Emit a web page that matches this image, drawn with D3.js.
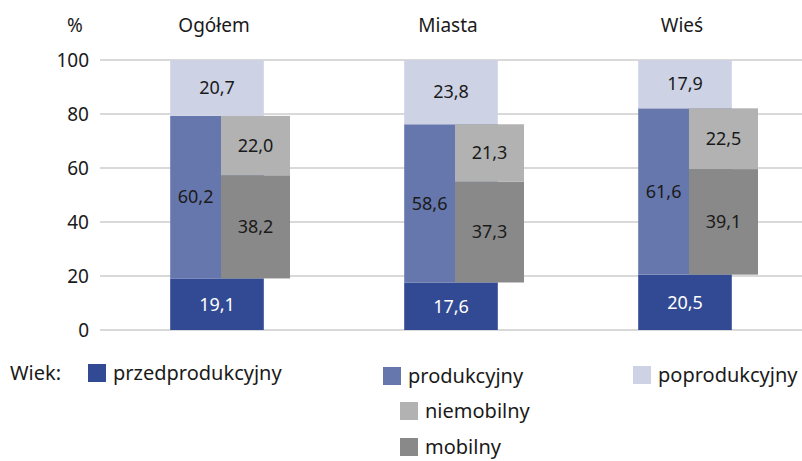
<!doctype html>
<html>
  <head>
    <meta charset="utf-8">
    <style>
      body { margin: 0; background: #fff; }
      text { font-family: "Noto Sans", sans-serif; font-size: 18px; fill: #1a1a1a; }
      .grid line { stroke: #d9d9d9; stroke-width: 2px; }
      .cat { font-size: 19px; }
      .tick { font-size: 19px; }
      .legend text, .lead { font-size: 20px; }
    </style>
    <script src="https://cdn.jsdelivr.net/npm/d3@7"></script>
  </head>
  <body>
  <script>
    // data
    const categories = ["Ogółem", "Miasta", "Wieś"];
    const przedprodukcyjny = [19.1, 17.6, 20.5];
    const produkcyjny = [60.2, 58.6, 61.6];
    const poprodukcyjny = [20.7, 23.8, 17.9];
    const mobilny = [38.2, 37.3, 39.1];
    const niemobilny = [22.0, 21.3, 22.5];
    const yTicks = [0, 20, 40, 60, 80, 100];

    const colors = {
      przedprodukcyjny: "#324a93",
      produkcyjny: "#6677ad",
      poprodukcyjny: "#cdd2e5",
      niemobilny: "#b1b2b1",
      mobilny: "#898989"
    };

    const fmt = v => d3.format(".1f")(v).replace(".", ",");

    const width = 802, height = 461;
    const svg = d3.select("body").append("svg")
        .attr("width", width)
        .attr("height", height);

    const x = d3.scaleBand().domain(categories).range([100, 802]);
    const y = d3.scaleLinear().domain([0, 100]).range([330, 60]);
    const bw = x.bandwidth();
    const mainW = bw * 0.4, grayOff = bw * 0.017, grayW = bw * 0.295;
    const cx = c => x(c) + bw / 2;

    // gridlines
    svg.append("g").attr("class", "grid")
      .selectAll("line").data(yTicks).enter().append("line")
        .attr("x1", 100).attr("x2", width)
        .attr("y1", d => y(d)).attr("y2", d => y(d));

    // y axis labels
    svg.append("g").selectAll("text").data(yTicks).enter().append("text")
        .attr("class", "tick")
        .attr("x", 89).attr("y", d => y(d)).attr("dy", "0.35em")
        .attr("text-anchor", "end")
        .text(d => d);

    svg.append("text").attr("class", "tick").attr("x", 75).attr("y", 32)
        .attr("text-anchor", "middle").text("%");

    // category labels
    svg.append("g").selectAll("text").data(categories).enter().append("text")
        .attr("class", "cat")
        .attr("x", d => cx(d) - 3).attr("y", 32)
        .attr("text-anchor", "middle")
        .text(d => d);

    // main stacked bars
    const mainRows = categories.map((c, i) => ({
      cat: c,
      przedprodukcyjny: przedprodukcyjny[i],
      produkcyjny: produkcyjny[i],
      poprodukcyjny: poprodukcyjny[i]
    }));
    const mainKeys = ["przedprodukcyjny", "produkcyjny", "poprodukcyjny"];
    const mainStack = d3.stack().keys(mainKeys)(mainRows);

    svg.append("g").selectAll("g").data(mainStack).enter().append("g")
        .attr("fill", d => colors[d.key])
      .selectAll("rect").data(d => d).enter().append("rect")
        .attr("x", d => cx(d.data.cat) - mainW / 2)
        .attr("width", mainW)
        .attr("y", d => y(d[1]))
        .attr("height", d => y(d[0]) - y(d[1]));

    // produkcyjny split bar (starts on top of przedprodukcyjny)
    const grayRows = categories.map((c, i) => ({
      cat: c,
      base: przedprodukcyjny[i],
      mobilny: mobilny[i],
      niemobilny: niemobilny[i]
    }));
    const grayKeys = ["mobilny", "niemobilny"];
    const grayStack = d3.stack().keys(grayKeys)
      .offset((series, order) => {
        d3.stackOffsetNone(series, order);
        series.forEach(s => s.forEach((p, j) => {
          const b = grayRows[j].base;
          p[0] += b; p[1] += b;
        }));
      })(grayRows);

    svg.append("g").selectAll("g").data(grayStack).enter().append("g")
        .attr("fill", d => colors[d.key])
      .selectAll("rect").data(d => d).enter().append("rect")
        .attr("x", d => cx(d.data.cat) + grayOff)
        .attr("width", grayW)
        .attr("y", d => y(d[1]))
        .attr("height", d => y(d[0]) - y(d[1]));

    // value labels
    const labels = [];
    mainStack.forEach(s => s.forEach(p => {
      const left = cx(p.data.cat) - mainW / 2;
      const xc = s.key === "produkcyjny" ? (left + cx(p.data.cat) + grayOff) / 2 : cx(p.data.cat);
      labels.push({ x: xc, y: y((p[0] + p[1]) / 2), v: p[1] - p[0],
                    fill: s.key === "przedprodukcyjny" ? "#fff" : "#1a1a1a" });
    }));
    grayStack.forEach(s => s.forEach(p => {
      labels.push({ x: cx(p.data.cat) + grayOff + grayW / 2, y: y((p[0] + p[1]) / 2),
                    v: p[1] - p[0], fill: "#1a1a1a" });
    }));
    svg.append("g").selectAll("text").data(labels).enter().append("text")
        .attr("x", d => d.x).attr("y", d => d.y).attr("dy", "0.35em")
        .attr("text-anchor", "middle")
        .style("fill", d => d.fill)
        .text(d => fmt(d.v));

    // legend
    svg.append("text").attr("class", "lead").attr("x", 10).attr("y", 380).text("Wiek:");
    const legend = [
      { key: "przedprodukcyjny", x: 88, y: 364 },
      { key: "produkcyjny", x: 383, y: 367 },
      { key: "poprodukcyjny", x: 633, y: 366 },
      { key: "niemobilny", x: 400, y: 402 },
      { key: "mobilny", x: 400, y: 438 }
    ];
    const lg = svg.append("g").attr("class", "legend")
      .selectAll("g").data(legend).enter().append("g")
        .attr("transform", d => "translate(" + d.x + "," + d.y + ")");
    lg.append("rect").attr("width", 18).attr("height", 18).attr("fill", d => colors[d.key]);
    lg.append("text").attr("x", 25).attr("y", 9).attr("dy", "0.35em").text(d => d.key);
  </script>
  </body>
</html>
